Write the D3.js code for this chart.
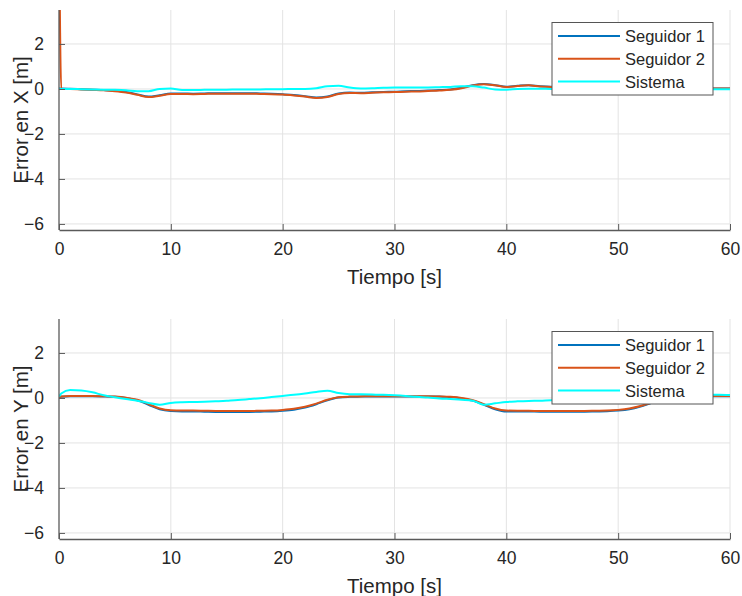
<!DOCTYPE html>
<html>
<head>
<meta charset="utf-8">
<script src="https://cdn.jsdelivr.net/npm/d3@7"></script>
<style>
  body { margin: 0; background: #fff; }
  text { font-family: "Liberation Sans", Arial, sans-serif; fill: #262626; }
</style>
</head>
<body>
<svg id="chart" width="742" height="596"></svg>
<script>
// time samples (s)
const tiempo = [0, 0.2, 1, 2, 3, 4, 5, 6, 7, 8, 9, 10, 11, 12, 13, 14, 15, 16, 17, 18, 19, 20,
  21, 22, 23, 24, 25, 26, 27, 28, 29, 30, 31, 32, 33, 34, 35, 36, 37, 38, 39, 40,
  41, 42, 43, 44, 45, 46, 47, 48, 49, 50, 51, 52, 53, 54, 55, 56, 57, 58, 59, 60];

// Error en X [m]
const errX_seg1 = [0.02, 0.02, 0.01, -0.01, -0.03, -0.05, -0.08, -0.14, -0.24, -0.34, -0.28, -0.2,
  -0.2, -0.21, -0.2, -0.19, -0.19, -0.19, -0.19, -0.2, -0.21, -0.23,
  -0.27, -0.32, -0.38, -0.34, -0.2, -0.16, -0.17, -0.15, -0.13, -0.12,
  -0.1, -0.09, -0.07, -0.05, -0.02, 0.05, 0.17, 0.22, 0.17, 0.1,
  0.14, 0.17, 0.12, 0.1, 0.1, 0.09, 0.09, 0.08, 0.07, 0.06,
  0.06, 0.05, 0.05, 0.05, 0.04, 0.03, 0.03, 0.02, 0.02, 0.02];
const errX_seg2 = [8, 0.0, 0.0, -0.02, -0.04, -0.06, -0.1, -0.16, -0.26, -0.36, -0.3, -0.22,
  -0.22, -0.23, -0.22, -0.21, -0.21, -0.21, -0.21, -0.22, -0.23, -0.25,
  -0.29, -0.34, -0.4, -0.36, -0.22, -0.18, -0.19, -0.17, -0.15, -0.14,
  -0.12, -0.11, -0.09, -0.07, -0.04, 0.03, 0.15, 0.21, 0.16, 0.09,
  0.13, 0.16, 0.11, 0.09, 0.09, 0.08, 0.08, 0.07, 0.06, 0.05,
  0.05, 0.04, 0.04, 0.04, 0.03, 0.03, 0.03, 0.02, 0.02, 0.02];
const errX_sis = [0, 0, 0, -0.01, -0.02, -0.03, -0.04, -0.06, -0.1, -0.1, 0.0, 0.02,
  -0.05, -0.05, -0.04, -0.03, -0.03, -0.02, -0.02, -0.02, -0.01, -0.01,
  0, 0, 0.03, 0.12, 0.14, 0.06, 0.02, 0.03, 0.05, 0.06,
  0.06, 0.07, 0.07, 0.08, 0.09, 0.12, 0.12, 0.06, -0.02, -0.03,
  0.0, 0.01, 0.01, 0.0, 0.0, 0.0, 0.0, 0.0, 0.0, 0.0,
  0.0, 0.0, 0.0, 0.0, -0.01, -0.01, -0.01, -0.01, -0.01, -0.01];

// Error en Y [m]
const errY_seg1 = [0, 0.05, 0.08, 0.08, 0.08, 0.07, 0.05, 0.0, -0.1, -0.3, -0.5, -0.58,
  -0.6, -0.6, -0.61, -0.62, -0.62, -0.62, -0.62, -0.61, -0.6, -0.57,
  -0.52, -0.43, -0.28, -0.1, 0.02, 0.05, 0.06, 0.07, 0.07, 0.07,
  0.07, 0.07, 0.07, 0.06, 0.04, -0.02, -0.12, -0.3, -0.5, -0.6,
  -0.6, -0.6, -0.61, -0.61, -0.61, -0.61, -0.61, -0.6, -0.59, -0.56,
  -0.5, -0.38, -0.22, -0.08, 0.02, 0.06, 0.07, 0.08, 0.08, 0.08];
const errY_seg2 = [0.02, 0.06, 0.09, 0.09, 0.09, 0.08, 0.06, 0.01, -0.08, -0.27, -0.47, -0.55,
  -0.56, -0.56, -0.57, -0.58, -0.58, -0.58, -0.58, -0.57, -0.56, -0.53,
  -0.48, -0.39, -0.25, -0.08, 0.03, 0.06, 0.07, 0.08, 0.08, 0.08,
  0.08, 0.08, 0.08, 0.07, 0.05, 0.0, -0.1, -0.28, -0.47, -0.56,
  -0.57, -0.57, -0.58, -0.58, -0.58, -0.58, -0.58, -0.57, -0.56, -0.53,
  -0.47, -0.36, -0.2, -0.06, 0.03, 0.07, 0.08, 0.09, 0.09, 0.09];
const errY_sis = [0.05, 0.2, 0.35, 0.33, 0.25, 0.12, 0.03, -0.05, -0.12, -0.22, -0.3, -0.22,
  -0.19, -0.18, -0.17, -0.15, -0.12, -0.09, -0.05, -0.01, 0.04, 0.09,
  0.14, 0.2, 0.27, 0.32, 0.22, 0.17, 0.16, 0.15, 0.14, 0.12,
  0.09, 0.05, 0.02, -0.02, -0.05, -0.08, -0.12, -0.3, -0.24, -0.18,
  -0.15, -0.13, -0.12, -0.1, -0.09, -0.08, -0.07, -0.06, -0.06, -0.05,
  -0.03, 0.0, 0.02, 0.05, 0.08, 0.1, 0.12, 0.14, 0.14, 0.13];

const xTicks = [0, 10, 20, 30, 40, 50, 60];
const yTicks = [-6, -4, -2, 0, 2];
const seriesNames = ['Seguidor 1', 'Seguidor 2', 'Sistema'];
const colors = ['#0072BD', '#D95319', '#00FFFF'];

const svg = d3.select('#chart');

function drawPanel(id, top, yLabel, seriesList) {
  const left = 59, right = 730, height = 220;
  const bottom = top + height;

  const x = d3.scaleLinear().domain([0, 60]).range([left, right]);
  const y = d3.scaleLinear().domain([-6.27, 3.51]).range([bottom, top]);

  const g = svg.append('g');

  // grid
  g.append('g').selectAll('line').data(xTicks.slice(1)).join('line')
    .attr('x1', d => x(d)).attr('x2', d => x(d))
    .attr('y1', top).attr('y2', bottom)
    .attr('stroke', '#e3e3e3').attr('stroke-width', 1);
  g.append('g').selectAll('line').data(yTicks).join('line')
    .attr('x1', left).attr('x2', right)
    .attr('y1', d => y(d)).attr('y2', d => y(d))
    .attr('stroke', '#e3e3e3').attr('stroke-width', 1);

  // clip
  svg.append('clipPath').attr('id', 'clip' + id)
    .append('rect').attr('x', left).attr('y', top)
    .attr('width', right - left).attr('height', height);

  const line = d3.line()
    .x((d, i) => x(tiempo[i]))
    .y(d => y(d))
    .curve(d3.curveMonotoneX);

  const lines = g.append('g').attr('clip-path', `url(#clip${id})`);
  seriesList.forEach((vals, k) => {
    lines.append('path')
      .datum(vals)
      .attr('fill', 'none')
      .attr('stroke', colors[k])
      .attr('stroke-width', 2)
      .attr('stroke-linejoin', 'round')
      .attr('d', line);
  });

  // axes
  const xAxis = g.append('g')
    .attr('transform', `translate(0,${bottom})`)
    .call(d3.axisBottom(x).tickValues(xTicks).tickSize(-6).tickPadding(13).tickSizeOuter(0));
  const yAxis = g.append('g')
    .attr('transform', `translate(${left},0)`)
    .call(d3.axisLeft(y).tickValues(yTicks).tickSize(-6).tickPadding(15).tickSizeOuter(0));
  [xAxis, yAxis].forEach(a => {
    a.select('.domain').attr('stroke', '#5a5a5a').attr('stroke-width', 1.3);
    a.selectAll('.tick line').attr('stroke', '#5a5a5a');
    a.selectAll('.tick text').attr('font-size', 17.5).attr('fill', '#262626')
      .attr('font-family', '"Liberation Sans", Arial, sans-serif');
  });
  yAxis.select('.domain').attr('d', `M0,${bottom}V${top}`);

  // labels
  g.append('text')
    .attr('x', (left + right) / 2).attr('y', bottom + 54)
    .attr('text-anchor', 'middle').attr('font-size', 20.5)
    .text('Tiempo [s]');
  g.append('text')
    .attr('transform', `translate(28,${(top + bottom) / 2}) rotate(-90)`)
    .attr('text-anchor', 'middle').attr('font-size', 20.5)
    .text(yLabel);

  // legend
  const lx = 552, ly = top + 12.5, lw = 161, lh = 72.5;
  const leg = g.append('g');
  leg.append('rect').attr('x', lx).attr('y', ly).attr('width', lw).attr('height', lh)
    .attr('fill', '#fff').attr('stroke', '#555').attr('stroke-width', 1);
  seriesNames.forEach((name, k) => {
    const yy = ly + 13.5 + k * 22.8;
    leg.append('line').attr('x1', lx + 6).attr('x2', lx + 68)
      .attr('y1', yy).attr('y2', yy)
      .attr('stroke', colors[k]).attr('stroke-width', 2);
    leg.append('text').attr('x', lx + 73).attr('y', yy + 6)
      .attr('font-size', 16.5).text(name);
  });
}

drawPanel('X', 10, 'Error en X [m]', [errX_seg1, errX_seg2, errX_sis]);
drawPanel('Y', 319, 'Error en Y [m]', [errY_seg1, errY_seg2, errY_sis]);
</script>
</body>
</html>
